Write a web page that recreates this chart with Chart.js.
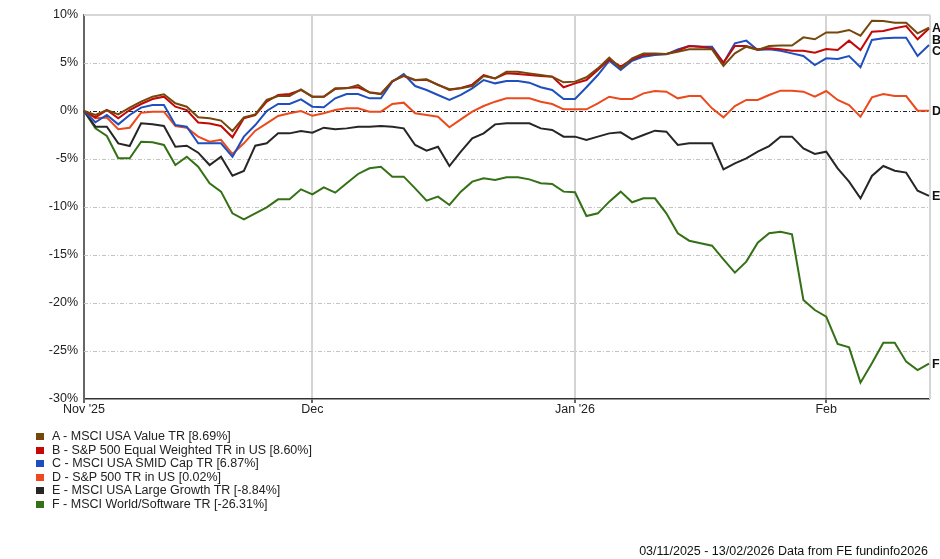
<!DOCTYPE html>
<html>
<head>
<meta charset="utf-8">
<script src="https://cdn.jsdelivr.net/npm/chart.js@4.4.1/dist/chart.umd.min.js"></script>
<style>
  html, body { margin: 0; padding: 0; background: #fff; }
  #wrap { position: relative; width: 940px; height: 559px; overflow: hidden; font-family: "Liberation Sans", Arial, sans-serif; }
  #c { position: absolute; left: 0; top: 0; }
  #legend { position: absolute; left: 36px; top: 430px; font-size: 12.5px; color: #222; }
  .row { position: relative; height: 13.5px; line-height: 13.5px; white-space: nowrap; padding-left: 16px; }
  .sw { position: absolute; left: 0; top: 3px; width: 8px; height: 7px; }
  #footer { position: absolute; right: 12px; top: 544px; font-size: 12.5px; color: #111; white-space: nowrap; }
</style>
</head>
<body>
<div id="wrap">
  <canvas id="c" width="940" height="559"></canvas>
  <div id="legend"></div>
  <div id="footer"></div>
</div>
<script>
// ---- data ----
const dates = [
 '2025-11-03','2025-11-04','2025-11-05','2025-11-06','2025-11-07','2025-11-10','2025-11-11','2025-11-12','2025-11-13','2025-11-14',
 '2025-11-17','2025-11-18','2025-11-19','2025-11-20','2025-11-21','2025-11-24','2025-11-25','2025-11-26','2025-11-27','2025-11-28',
 '2025-12-01','2025-12-02','2025-12-03','2025-12-04','2025-12-05','2025-12-08','2025-12-09','2025-12-10','2025-12-11','2025-12-12',
 '2025-12-15','2025-12-16','2025-12-17','2025-12-18','2025-12-19','2025-12-22','2025-12-23','2025-12-24','2025-12-25','2025-12-26',
 '2025-12-29','2025-12-30','2025-12-31','2026-01-01','2026-01-02','2026-01-05','2026-01-06','2026-01-07','2026-01-08','2026-01-09',
 '2026-01-12','2026-01-13','2026-01-14','2026-01-15','2026-01-16','2026-01-19','2026-01-20','2026-01-21','2026-01-22','2026-01-23',
 '2026-01-26','2026-01-27','2026-01-28','2026-01-29','2026-01-30','2026-02-02','2026-02-03','2026-02-04','2026-02-05','2026-02-06',
 '2026-02-09','2026-02-10','2026-02-11','2026-02-12','2026-02-13'
];
const tickDates = ['2025-11-03','2025-12-01','2026-01-01','2026-02-02'];
const tickLabels = ["Nov '25", 'Dec', "Jan '26", 'Feb'];

const seriesLetters = ['A','B','C','D','E','F'];
const seriesNames = [
 'A - MSCI USA Value TR [8.69%]',
 'B - S&P 500 Equal Weighted TR in US [8.60%]',
 'C - MSCI USA SMID Cap TR [6.87%]',
 'D - S&P 500 TR in US [0.02%]',
 'E - MSCI USA Large Growth TR [-8.84%]',
 'F - MSCI World/Software TR [-26.31%]'
];
const seriesColors = ['#74480c','#c40808','#1f4fbf','#ec4a1c','#262626','#347015'];

const valueA = [0,-0.42,0.1,-0.35,0.35,0.97,1.49,1.74,0.8,0.45,-0.66,-0.76,-1.0,-2.08,-0.66,-0.35,1.15,1.56,1.56,2.26,
 1.49,1.49,2.36,2.36,2.71,1.91,1.74,3.13,3.68,3.23,3.30,2.71,2.26,2.36,2.6,3.65,3.40,4.1,4.1,3.92,3.75,3.58,2.99,
 3.06,3.51,4.44,5.56,4.44,5.49,6.0,6.0,5.94,6.18,6.42,6.42,6.42,4.69,6.0,6.7,6.35,6.77,6.81,6.81,7.67,7.47,
 8.19,8.19,8.44,7.85,9.41,9.38,9.2,9.2,8.09,8.69];
const valueB = [0,-0.66,0.1,-0.76,0.1,0.73,1.25,1.49,0.45,0.1,-1.2,-1.3,-1.56,-2.74,-0.76,-0.42,0.97,1.67,1.77,2.19,
 1.49,1.49,2.3,2.4,2.47,1.95,1.8,3.1,3.65,3.2,3.25,2.75,2.2,2.4,2.75,3.75,3.40,3.92,3.85,3.75,3.65,3.58,2.47,
 2.88,3.23,4.27,5.38,4.62,5.38,5.83,5.94,5.94,6.28,6.77,6.7,6.53,5.03,6.77,6.77,6.42,6.53,6.42,6.28,6.28,6.08,
 6.46,6.35,7.33,6.35,8.26,8.33,8.61,8.85,7.47,8.60];
const valueC = [0,-1.18,-0.42,-1.39,-0.42,0.35,0.62,0.62,-1.46,-1.63,-3.37,-3.37,-3.37,-4.76,-2.67,-1.46,0,0.73,0.73,1.22,
 0.45,0.38,1.32,1.77,1.77,1.32,1.32,3.06,3.85,2.6,2.19,1.67,1.15,1.67,2.36,3.23,2.88,3.13,3.13,2.95,2.47,2.19,1.25,
 1.25,2.47,3.75,5.24,4.27,5.24,5.66,5.83,5.9,6.42,6.77,6.7,6.7,5.03,7.05,7.33,6.35,6.42,6.28,6.0,5.73,4.79,
 5.49,5.42,5.73,4.55,7.4,7.57,7.64,7.64,5.73,6.87];
const valueD = [0,-0.76,-0.69,-1.9,-1.74,-0.17,-0.07,-0.07,-1.56,-1.74,-2.67,-3.2,-3.0,-4.48,-3.37,-2.05,-1.28,-0.52,-0.24,0,
 -0.5,-0.24,0.1,0.28,0.28,-0.07,-0.07,0.73,0.87,-0.24,-0.42,-0.59,-1.7,-0.87,-0.07,0.52,0.97,1.32,1.32,1.32,0.97,0.73,0.17,
 0.17,0.17,0.8,1.49,1.25,1.25,1.84,2.08,2.01,1.32,1.56,1.56,0.28,-0.66,0.52,1.15,1.15,1.67,2.12,2.12,2.01,1.49,
 2.08,1.15,0.62,-0.59,1.42,1.77,1.56,1.56,0.03,0.02];
const valueE = [0,-1.63,-1.63,-3.37,-3.65,-1.28,-1.39,-1.56,-3.72,-3.61,-4.34,-5.63,-4.76,-6.74,-6.25,-3.61,-3.37,-2.33,-2.33,-2.08,
 -2.26,-1.74,-1.91,-1.81,-1.63,-1.63,-1.56,-1.63,-1.81,-3.54,-4.13,-3.72,-5.73,-4.24,-2.85,-2.33,-1.39,-1.28,-1.28,-1.28,-1.81,-1.98,-2.67,
 -2.67,-3.02,-2.67,-2.33,-2.22,-2.95,-2.5,-2.05,-2.15,-3.54,-3.37,-3.37,-3.37,-6.08,-5.45,-4.93,-4.24,-3.65,-2.67,-2.67,-3.89,-4.48,
 -4.24,-5.97,-7.36,-9.1,-6.77,-5.73,-6.22,-6.42,-8.3,-8.84];
const valueF = [0,-1.8,-2.6,-4.93,-4.93,-3.2,-3.26,-3.54,-5.63,-4.76,-5.8,-7.53,-8.4,-10.66,-11.28,-10.66,-10.03,-9.2,-9.2,-8.16,
 -8.68,-7.95,-8.51,-7.53,-6.56,-5.97,-5.8,-6.84,-6.84,-8.06,-9.34,-8.92,-9.79,-8.4,-7.36,-7.01,-7.19,-6.91,-6.91,-7.12,-7.53,-7.6,-8.4,
 -8.47,-10.94,-10.66,-9.44,-8.4,-9.51,-9.1,-9.1,-10.66,-12.74,-13.51,-13.78,-14.03,-15.45,-16.84,-15.69,-13.71,-12.74,-12.57,-12.85,-19.69,-20.73,
 -21.42,-24.27,-24.62,-28.3,-26.28,-24.13,-24.13,-26.11,-26.98,-26.31];
const seriesValues = [valueA, valueB, valueC, valueD, valueE, valueF];

const footerText = '03/11/2025 - 13/02/2026 Data from FE fundinfo2026';

// ---- html legend & footer ----
const leg = document.getElementById('legend');
seriesNames.forEach((n, i) => {
  const r = document.createElement('div'); r.className = 'row';
  const s = document.createElement('span'); s.className = 'sw'; s.style.background = seriesColors[i];
  r.appendChild(s); r.appendChild(document.createTextNode(n)); leg.appendChild(r);
});
document.getElementById('footer').textContent = footerText;

// ---- plugins ----
const FONT = '"Liberation Sans", Arial, sans-serif';
const framePlugin = {
  id: 'frame',
  beforeDatasetsDraw(chart) {
    const { ctx, chartArea: a, scales: { y } } = chart;
    ctx.save();
    // horizontal dash-dot grid
    y.ticks.forEach(t => {
      if (t.value === y.max || t.value === y.min) return;
      const py = Math.round(y.getPixelForValue(t.value)) + 0.5;
      ctx.beginPath();
      ctx.setLineDash([4, 2, 1, 2]);
      ctx.lineWidth = 1;
      ctx.strokeStyle = t.value === 0 ? '#222' : '#c4c4c4';
      ctx.moveTo(a.left, py); ctx.lineTo(a.right, py); ctx.stroke();
    });
    ctx.setLineDash([]);
    // top and right borders
    ctx.strokeStyle = '#d6d6d6';
    ctx.lineWidth = 2;
    ctx.beginPath(); ctx.moveTo(a.left, a.top); ctx.lineTo(a.right + 1, a.top); ctx.stroke();
    ctx.beginPath(); ctx.moveTo(a.right + 1, a.top); ctx.lineTo(a.right + 1, a.bottom); ctx.stroke();
    ctx.restore();
  }
};
const endLabelPlugin = {
  id: 'endLabels',
  afterDatasetsDraw(chart) {
    const { ctx, chartArea: a } = chart;
    const items = chart.data.datasets.map((ds, i) => {
      const meta = chart.getDatasetMeta(i);
      const pt = meta.data[meta.data.length - 1];
      return { letter: seriesLetters[i], y: pt.y };
    }).sort((p, q) => p.y - q.y);
    for (let k = 1; k < items.length; k++) {
      if (items[k].y < items[k - 1].y + 11.5) items[k].y = items[k - 1].y + 11.5;
    }
    ctx.save();
    ctx.font = 'bold 12.5px ' + FONT;
    ctx.fillStyle = '#111';
    ctx.textAlign = 'left';
    ctx.textBaseline = 'middle';
    items.forEach(it => ctx.fillText(it.letter, a.right + 3, it.y + 1));
    ctx.restore();
  }
};

// ---- chart ----
Chart.defaults.font.family = FONT;
Chart.defaults.font.size = 12.5;
Chart.defaults.color = '#222';

new Chart(document.getElementById('c'), {
  type: 'line',
  data: {
    labels: dates,
    datasets: seriesValues.map((v, i) => ({
      label: seriesNames[i],
      data: v,
      borderColor: seriesColors[i],
      backgroundColor: seriesColors[i],
      borderWidth: 2,
      pointRadius: 0,
      tension: 0,
      fill: false
    }))
  },
  options: {
    responsive: false,
    devicePixelRatio: 1,
    animation: false,
    layout: { padding: { left: 0, top: 15, right: 11, bottom: 140 } },
    plugins: { legend: { display: false }, tooltip: { enabled: false } },
    scales: {
      x: {
        type: 'category',
        offset: false,
        afterFit(s) { s.height = 20; },
        afterBuildTicks(s) {
          s.ticks = s.ticks.filter(t => tickDates.includes(dates[t.value]));
        },
        ticks: {
          autoSkip: false,
          maxRotation: 0,
          padding: -1,
          color: '#222',
          callback(v) { return tickLabels[tickDates.indexOf(dates[v])]; }
        },
        grid: { color: '#d4d4d4', lineWidth: 2, tickLength: 4, tickColor: '#333', tickWidth: 1.5 },
        border: { display: true, color: '#333', width: 1.5 }
      },
      y: {
        min: -30, max: 10,
        afterFit(s) { s.width = 84; },
        ticks: { stepSize: 5, padding: 6, color: '#222', callback(v) { return v + '%'; } },
        grid: { display: false, drawTicks: false },
        border: { display: true, color: '#666', width: 2 }
      }
    }
  },
  plugins: [framePlugin, endLabelPlugin]
});
</script>
</body>
</html>
